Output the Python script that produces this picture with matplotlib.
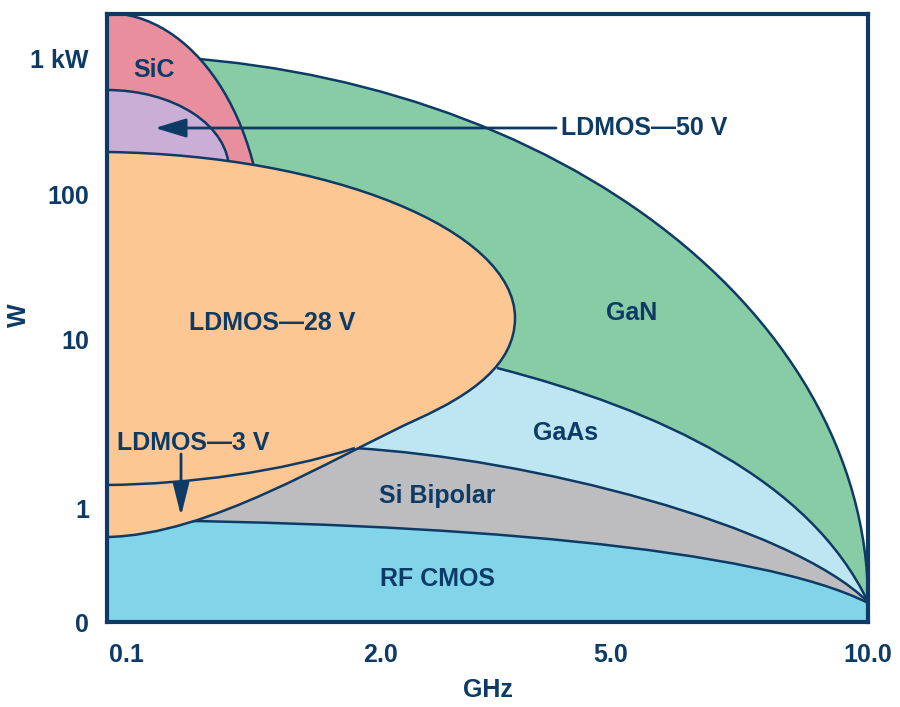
import numpy as np
import matplotlib
matplotlib.use("Agg")
import matplotlib.pyplot as plt
from matplotlib.patches import Ellipse, PathPatch
from matplotlib.path import Path

plt.rcParams["font.family"] = ["Liberation Sans", "DejaVu Sans"]

# schematic chart: everything is in picture units (x to the right, y downward)
freq_labels = ["0.1", "2.0", "5.0", "10.0"]
freq_ticks = [126, 380, 611, 868]
power_labels = ["0", "1", "10", "100", "1 kW"]
power_ticks = [622, 508, 340, 195, 59]

# areas drawn as ellipses: center x, center y, half width, half height
gan_area = (107, 602, 761, 547)
sic_area = (107, 250, 157, 237)
ldmos50_area = (107, 170, 122, 80)

# LDMOS 28 V outline as bezier pieces (top, nose, lower edge)
ldmos28_top = [(107, 152), (330, 155), (515, 230), (515, 318)]
ldmos28_nose = [(515, 318), (515, 365), (470, 395), (420, 418)]
ldmos28_low = [(420, 418), (330, 459), (210, 535), (107, 537)]

# upper edges of the low power areas, bezier control points
gaas_edge = [(497, 368), (660, 410), (810, 480), (868, 602)]
sibip_edge = [(353, 448), (530, 458), (790, 525), (868, 602)]
cmos_edge = [(107, 520), (450, 522), (760, 548), (868, 603)]
ldmos3_edge = [(107, 485), (190, 484), (280, 472), (355, 448)]

NAVY = "#0d3b66"
EDGE_LW = 1.8

fig = plt.figure(figsize=(9, 7.07), dpi=100)
ax = fig.add_axes([107 / 900, 1 - 622 / 707, 761 / 900, 608 / 707])
ax.set_xlim(107, 868)
ax.set_ylim(622, 14)

C4 = [Path.CURVE4] * 3


def add_ellipse(area, color, z):
    cx, cy, a, b = area
    ax.add_patch(Ellipse((cx, cy), 2 * a, 2 * b, facecolor=color,
                         edgecolor=NAVY, lw=EDGE_LW, zorder=z))


def add_curve(edge, z):
    ax.add_patch(PathPatch(Path(edge, [Path.MOVETO] + C4), facecolor="none",
                           edgecolor=NAVY, lw=EDGE_LW, zorder=z))


def add_band(edge, start, color, z):
    # fill everything below the edge curve, then stroke the curve
    verts = [start, edge[0], edge[1], edge[2], edge[3],
             (890, edge[3][1]), (890, 650), (100, 650), (100, start[1]), start]
    codes = [Path.MOVETO, Path.LINETO] + C4 + [Path.LINETO] * 4 + [Path.CLOSEPOLY]
    ax.add_patch(PathPatch(Path(verts, codes), facecolor=color, edgecolor="none", zorder=z))
    add_curve(edge, z)


add_ellipse(gan_area, "#88cca6", 1)
add_band(gaas_edge, (107, gaas_edge[0][1]), "#bde6f2", 2)
add_band(sibip_edge, (107, sibip_edge[0][1]), "#bdbdbf", 3)
add_band(cmos_edge, cmos_edge[0], "#82d4e8", 4)
add_ellipse(sic_area, "#e88e9d", 5)
add_ellipse(ldmos50_area, "#cbaed5", 6)

# LDMOS 28 V: closed outline, its left side runs outside the frame
pieces = [ldmos28_top, ldmos28_nose, ldmos28_low]
verts = [ldmos28_top[0]]
for piece in pieces:
    verts += piece[1:]
verts += [(95, ldmos28_low[-1][1]), (95, ldmos28_top[0][1]), ldmos28_top[0]]
codes = [Path.MOVETO] + C4 * len(pieces) + [Path.LINETO, Path.LINETO, Path.CLOSEPOLY]
ax.add_patch(PathPatch(Path(verts, codes), facecolor="#fdc793",
                       edgecolor=NAVY, lw=EDGE_LW, zorder=7))

add_curve(ldmos3_edge, 8)

# arrows
arrow = dict(arrowstyle="-|>,head_length=1.9,head_width=0.58", mutation_scale=10,
             lw=2.0, color=NAVY, shrinkA=0, shrinkB=0)
ax.annotate("", xy=(155, 128), xytext=(556, 128), arrowprops=arrow, zorder=9)
arrow3 = dict(arrow, arrowstyle="-|>,head_length=2.0,head_width=0.5")
ax.annotate("", xy=(181, 516), xytext=(181, 454), arrowprops=arrow3, zorder=9)

label = dict(color=NAVY, fontsize=18, fontweight="bold", va="baseline", zorder=10)
ax.text(154, 77, "SiC", ha="center", **label)
ax.text(561, 135, "LDMOS—50 V", ha="left", **label)
ax.text(632, 320, "GaN", ha="center", **label)
ax.text(272, 330, "LDMOS—28 V", ha="center", **label)
ax.text(566, 440, "GaAs", ha="center", **label)
ax.text(117, 450, "LDMOS—3 V", ha="left", **label)
ax.text(437, 503, "Si Bipolar", ha="center", **label)
ax.text(437, 586, "RF CMOS", ha="center", **label)

ax.set_xticks(freq_ticks, freq_labels)
ax.set_yticks(power_ticks, power_labels)
ax.tick_params(length=0, labelsize=18, labelcolor=NAVY)
ax.tick_params(axis="x", pad=15)
ax.tick_params(axis="y", pad=13)
for t in ax.get_xticklabels() + ax.get_yticklabels():
    t.set_fontweight("bold")
ax.set_xlabel("GHz", fontsize=18, fontweight="bold", color=NAVY, labelpad=8)
fig.text(19 / 900, 1 - 315 / 707, "W", rotation=90, ha="center", va="center",
         fontsize=18, fontweight="bold", color=NAVY)

for sp in ax.spines.values():
    sp.set_color(NAVY)
    sp.set_linewidth(3.0)
    sp.set_zorder(12)

fig.savefig("out.png", dpi=100)
